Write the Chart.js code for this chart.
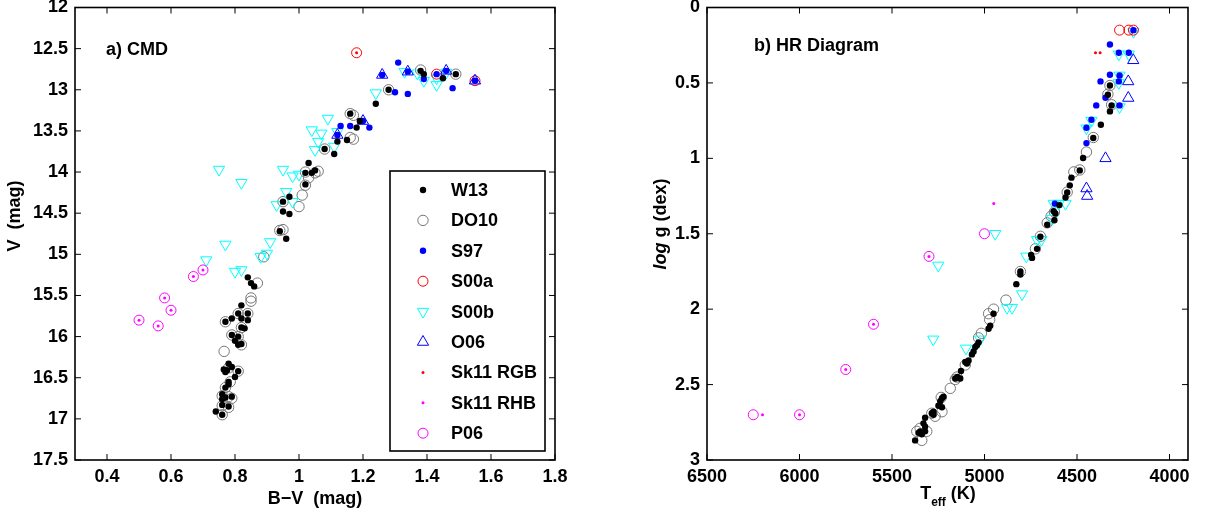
<!DOCTYPE html>
<html>
<head>
<meta charset="utf-8">
<script src="https://cdn.jsdelivr.net/npm/chart.js@4.4.1/dist/chart.umd.min.js"></script>
<style>
  html, body { margin: 0; padding: 0; background: #fff; }
  #wrap { position: relative; width: 1207px; height: 515px; }
  .panel { position: absolute; top: 0; height: 515px; }
</style>
</head>
<body>
<div id="wrap">
  <div class="panel" style="left:0;width:610px"><canvas id="cmd"></canvas></div>
  <div class="panel" style="left:610px;width:597px"><canvas id="hr"></canvas></div>
</div>
<script>
const FONT = '"Liberation Sans", Arial, Helvetica, sans-serif';

// --- tick values ---
const cmdXTicks = [0.4, 0.6, 0.8, 1, 1.2, 1.4, 1.6, 1.8];
const cmdYTicks = [12, 12.5, 13, 13.5, 14, 14.5, 15, 15.5, 16, 16.5, 17, 17.5];
const hrXTicks = [6500, 6000, 5500, 5000, 4500, 4000];
const hrYTicks = [0, 0.5, 1, 1.5, 2, 2.5, 3];

// --- a) CMD : [B-V, V] ---
const cmdW13 = [
  [1.38, 12.77], [1.39, 12.81], [1.45, 12.86], [1.49, 12.81], [1.28, 13.00], [1.24, 13.17],
  [1.16, 13.29], [1.19, 13.38], [1.18, 13.46], [1.12, 13.63], [1.15, 13.61], [1.08, 13.72], [1.11, 13.78],
  [1.03, 13.89], [1.02, 14.01], [1.04, 14.01], [1.05, 13.98], [1.02, 14.15], [0.97, 14.30], [0.95, 14.36],
  [0.95, 14.48], [0.97, 14.51], [0.94, 14.72], [0.96, 14.81],
  [0.84, 15.28], [0.85, 15.35], [0.86, 15.39], [0.82, 15.62], [0.81, 15.72], [0.84, 15.72], [0.79, 15.78],
  [0.82, 15.78], [0.84, 15.80], [0.77, 15.82], [0.82, 15.89], [0.83, 15.90], [0.79, 15.98], [0.81, 16.00],
  [0.80, 16.05], [0.81, 16.10], [0.82, 16.09], [0.78, 16.33], [0.765, 16.40], [0.77, 16.43], [0.775, 16.41],
  [0.79, 16.37], [0.81, 16.42], [0.80, 16.49], [0.78, 16.55], [0.78, 16.58], [0.77, 16.62], [0.76, 16.70],
  [0.77, 16.74], [0.79, 16.73], [0.76, 16.76], [0.76, 16.83], [0.78, 16.85], [0.74, 16.91], [0.76, 16.95]
];
const cmdDO10 = [
  [1.38, 12.76], [1.49, 12.81], [1.28, 13.00], [1.16, 13.29], [1.17, 13.31], [1.16, 13.58], [1.17, 13.60],
  [1.08, 13.72], [1.02, 14.00], [1.06, 13.99], [1.05, 14.01], [1.03, 14.07], [1.02, 14.16], [1.01, 14.28],
  [1.00, 14.42], [0.95, 14.36], [0.94, 14.71], [0.95, 14.70], [0.89, 15.03],
  [0.87, 15.35], [0.85, 15.53], [0.85, 15.57], [0.81, 15.72], [0.84, 15.72], [0.77, 15.82], [0.82, 15.89],
  [0.79, 15.98], [0.81, 16.00], [0.82, 16.10], [0.766, 16.18], [0.78, 16.38], [0.81, 16.42], [0.785, 16.55],
  [0.77, 16.62], [0.76, 16.72], [0.78, 16.73], [0.79, 16.75], [0.76, 16.84], [0.78, 16.86], [0.76, 16.95]
];
const cmdS97 = [
  [1.31, 12.67], [1.39, 12.87], [1.43, 12.81], [1.46, 12.77], [1.48, 12.98], [1.55, 12.89], [1.30, 13.03],
  [1.34, 13.05], [1.26, 12.82], [1.34, 12.78], [1.20, 13.38], [1.22, 13.46], [1.13, 13.44], [1.16, 13.44],
  [1.12, 13.55]
];
const cmdS00a = [[1.18, 12.55], [1.43, 12.81], [1.55, 12.89]];
const cmdS00b = [
  [1.33, 12.78], [1.37, 12.80], [1.39, 12.89], [1.43, 12.86], [1.43, 12.94], [1.46, 12.79], [1.24, 13.04],
  [1.09, 13.35], [1.12, 13.51], [1.04, 13.49], [1.07, 13.53], [1.06, 13.63], [1.05, 13.73], [1.11, 13.69],
  [0.95, 13.97], [0.98, 14.05], [1.00, 14.03], [0.96, 14.24], [0.98, 14.36], [0.93, 14.40], [0.82, 14.13],
  [0.75, 13.97], [0.91, 14.85], [0.77, 14.88], [0.71, 15.07], [0.80, 15.21], [0.82, 15.19], [0.88, 15.03],
  [0.90, 14.99]
];
const cmdO06 = [[1.26, 12.82], [1.34, 12.78], [1.46, 12.77], [1.55, 12.89], [1.20, 13.38], [1.12, 13.55]];
const cmdSk11RGB = [[1.18, 12.55]];
const cmdSk11RHB = [[0.50, 15.80], [0.56, 15.87], [0.58, 15.53], [0.60, 15.68], [0.67, 15.27], [0.70, 15.19]];
const cmdP06 = [[0.50, 15.80], [0.56, 15.87], [0.58, 15.53], [0.60, 15.68], [0.67, 15.27], [0.70, 15.19]];

// --- b) HR diagram : [Teff, log g] ---
const hrW13 = [
  [4322, 0.517], [4333, 0.578], [4313, 0.649], [4322, 0.689], [4371, 0.777], [4412, 0.865], [4467, 0.998],
  [4485, 1.08], [4530, 1.128], [4539, 1.179], [4553, 1.227], [4562, 1.26], [4595, 1.31], [4626, 1.351],
  [4617, 1.366], [4622, 1.41], [4661, 1.44], [4698, 1.52], [4716, 1.60], [4748, 1.64], [4743, 1.66],
  [4806, 1.75], [4806, 1.77], [4828, 1.834], [4951, 2.03], [4969, 2.11], [4978, 2.13], [5032, 2.22],
  [5041, 2.24], [5050, 2.25], [5059, 2.28], [5068, 2.30], [5086, 2.34], [5095, 2.36], [5104, 2.35],
  [5127, 2.41], [5146, 2.45], [5158, 2.46], [5131, 2.46], [5222, 2.58], [5230, 2.59], [5239, 2.61],
  [5249, 2.64], [5230, 2.65], [5276, 2.68], [5285, 2.69], [5276, 2.70], [5321, 2.72], [5330, 2.757],
  [5321, 2.78], [5348, 2.81], [5357, 2.82], [5339, 2.83], [5375, 2.87], [5321, 2.81]
];
const hrDO10 = [
  [4322, 0.517], [4333, 0.575], [4313, 0.645], [4412, 0.862], [4449, 0.958], [4485, 1.077], [4517, 1.09],
  [4553, 1.224], [4622, 1.356], [4640, 1.384], [4661, 1.428], [4698, 1.517], [4725, 1.60], [4806, 1.75],
  [4884, 1.94], [4951, 2.0], [4978, 2.03], [4972, 2.07], [5017, 2.16], [5032, 2.19], [5104, 2.37],
  [5149, 2.45], [5158, 2.466], [5185, 2.525], [5234, 2.585], [5230, 2.68], [5285, 2.69], [5267, 2.71],
  [5312, 2.81], [5348, 2.79], [5366, 2.81], [5339, 2.87]
];
const hrS97 = [
  [4195, 0.15], [4322, 0.245], [4274, 0.30], [4220, 0.30], [4322, 0.446], [4270, 0.45], [4373, 0.49],
  [4274, 0.49], [4346, 0.598], [4396, 0.649], [4270, 0.649], [4422, 0.744], [4449, 0.797], [4449, 0.899],
  [4620, 1.30]
];
const hrS00a = [[4270, 0.15], [4220, 0.15], [4195, 0.15]];
const hrS00b = [
  [4195, 0.16], [4274, 0.31], [4220, 0.31], [4270, 0.45], [4274, 0.50], [4270, 0.66], [4422, 0.75],
  [4449, 0.80], [4626, 1.30], [4599, 1.30], [4562, 1.30], [4634, 1.40], [4716, 1.54], [4692, 1.54],
  [4774, 1.65], [4797, 1.90], [4878, 1.99], [4851, 1.99], [4942, 1.5], [5250, 1.71], [5277, 2.2],
  [5100, 2.26], [5023, 2.2]
];
const hrO06 = [[4196, 0.35], [4223, 0.49], [4223, 0.60], [4346, 1.0], [4449, 1.2], [4445, 1.25]];
const hrSk11RGB = [[4400, 0.30], [4375, 0.30]];
const hrSk11RHB = [[5300, 1.65], [5600, 2.1], [5750, 2.4], [6000, 2.7], [6200, 2.7], [4950, 1.3]];
const hrP06 = [[5300, 1.65], [5600, 2.1], [5750, 2.4], [6000, 2.7], [6250, 2.7], [5000, 1.5]];

const LEGEND_LABELS = ['W13', 'DO10', 'S97', 'S00a', 'S00b', 'O06', 'Sk11 RGB', 'Sk11 RHB', 'P06'];

const NONE = 'rgba(0,0,0,0)';
const STYLES = {
  'W13':      { shape: 'circle', r: 3.2, fill: '#000000', line: '#000000', bw: 0, order: 2 },
  'DO10':     { shape: 'circle', r: 5.2, fill: NONE, line: '#777777', bw: 1, order: 8 },
  'S97':      { shape: 'circle', r: 3.2, fill: '#0000ff', line: '#0000ff', bw: 0, order: 3 },
  'S00a':     { shape: 'circle', r: 5, fill: NONE, line: '#ff0000', bw: 1, order: 6 },
  'S00b':     { shape: 'triangle', r: 6.5, rot: 180, fill: NONE, line: '#00ffff', bw: 1, order: 7 },
  'O06':      { shape: 'triangle', r: 6.5, rot: 0, fill: NONE, line: '#0000ff', bw: 1, order: 5 },
  'Sk11 RGB': { shape: 'circle', r: 1.5, fill: '#ff0000', line: '#ff0000', bw: 0, order: 1 },
  'Sk11 RHB': { shape: 'circle', r: 1.5, fill: '#ff00ff', line: '#ff00ff', bw: 0, order: 1 },
  'P06':      { shape: 'circle', r: 5, fill: NONE, line: '#ff00ff', bw: 1, order: 6 },
};

function makeDatasets(seriesMap) {
  return LEGEND_LABELS.map(label => {
    const st = STYLES[label];
    return {
      label,
      data: seriesMap[label].map(p => ({ x: p[0], y: p[1] })),
      pointStyle: st.shape,
      pointRadius: st.r,
      pointRotation: st.rot || 0,
      pointBackgroundColor: st.fill,
      pointBorderColor: st.line,
      pointBorderWidth: st.bw,
      showLine: false,
      order: st.order,
    };
  });
}

function drawMarker(ctx, st, x, y) {
  ctx.save();
  ctx.lineWidth = st.bw;
  ctx.strokeStyle = st.line;
  ctx.fillStyle = st.fill;
  ctx.beginPath();
  if (st.shape === 'circle') {
    ctx.arc(x, y, st.r, 0, Math.PI * 2);
  } else {
    const rad0 = (st.rot || 0) * Math.PI / 180;
    for (let k = 0; k < 3; k++) {
      const a = rad0 + k * 2 * Math.PI / 3;
      const px = x + Math.sin(a) * st.r, py = y - Math.cos(a) * st.r;
      if (k === 0) ctx.moveTo(px, py); else ctx.lineTo(px, py);
    }
    ctx.closePath();
  }
  ctx.fill();
  if (st.bw > 0) ctx.stroke();
  ctx.restore();
}

// draw text pieces one after another: [{t, size, italic, dy}]
function drawPieces(ctx, pieces, cx, baseY) {
  const fontOf = p => `${p.italic ? 'italic ' : ''}bold ${p.size}px ${FONT}`;
  let total = 0;
  pieces.forEach(p => { ctx.font = fontOf(p); total += ctx.measureText(p.t).width; });
  let x = cx - total / 2;
  ctx.textAlign = 'left';
  ctx.textBaseline = 'alphabetic';
  pieces.forEach(p => {
    ctx.font = fontOf(p);
    ctx.fillText(p.t, x, baseY + (p.dy || 0));
    x += ctx.measureText(p.t).width;
  });
}

// box around plot area, inward ticks on all four sides, titles, legend
const framePlugin = {
  id: 'frame',
  afterDraw(chart) {
    const ctx = chart.ctx;
    const a = chart.chartArea;
    const xs = chart.scales.x, ys = chart.scales.y;
    const tl = 6;
    ctx.save();
    ctx.strokeStyle = '#000';
    ctx.lineWidth = 1;
    ctx.beginPath();
    xs.ticks.forEach(t => {
      const px = xs.getPixelForValue(t.value);
      ctx.moveTo(px, a.bottom); ctx.lineTo(px, a.bottom - tl);
      ctx.moveTo(px, a.top); ctx.lineTo(px, a.top + tl);
    });
    ys.ticks.forEach(t => {
      const py = ys.getPixelForValue(t.value);
      ctx.moveTo(a.left, py); ctx.lineTo(a.left + tl, py);
      ctx.moveTo(a.right, py); ctx.lineTo(a.right - tl, py);
    });
    ctx.stroke();
    ctx.lineWidth = 1.6;
    ctx.strokeRect(a.left, a.top, a.right - a.left, a.bottom - a.top);

    const cfg = chart.options.plugins.frame;
    ctx.fillStyle = '#000';
    // panel label
    ctx.font = `bold 18px ${FONT}`;
    ctx.textAlign = 'left';
    ctx.textBaseline = 'alphabetic';
    ctx.fillText(cfg.panel, cfg.panelX, cfg.panelY);
    // x title
    drawPieces(ctx, cfg.xTitle, cfg.xTitleX, cfg.xTitleY);
    // y title (rotated)
    ctx.save();
    ctx.translate(cfg.yTitleX, cfg.yTitleY);
    ctx.rotate(-Math.PI / 2);
    drawPieces(ctx, cfg.yTitle, 0, 6);
    ctx.restore();

    if (cfg.legend) {
      const L = cfg.legend;
      ctx.fillStyle = '#fff';
      ctx.fillRect(L.x, L.y, L.w, L.h);
      ctx.lineWidth = 1.6;
      ctx.strokeStyle = '#000';
      ctx.strokeRect(L.x, L.y, L.w, L.h);
      ctx.font = `bold 18px ${FONT}`;
      ctx.textBaseline = 'middle';
      ctx.textAlign = 'left';
      LEGEND_LABELS.forEach((label, i) => {
        const y = L.firstY + i * L.step;
        drawMarker(ctx, STYLES[label], L.markerX, y);
        ctx.fillStyle = '#000';
        ctx.fillText(label, L.textX, y + 1);
      });
    }
    ctx.restore();
  },
};

function axis(min, max, reverse, ticks, fmt, isX, size) {
  return {
    type: 'linear',
    min, max, reverse,
    grid: { display: false, drawTicks: false },
    border: { display: false },
    afterBuildTicks: s => { s.ticks = ticks.map(v => ({ value: v })); },
    afterFit: s => {
      if (isX) { s.height = size; s.paddingLeft = 0; s.paddingRight = 0; }
      else { s.width = size; s.paddingTop = 0; s.paddingBottom = 0; }
    },
    ticks: {
      color: '#000',
      font: { family: FONT, size: 18, weight: 'bold' },
      padding: isX ? 6 : 7,
      maxRotation: 0,
      autoSkip: false,
      callback: v => fmt(v),
    },
  };
}

const fmtDec = v => String(Math.round(v * 10) / 10);

new Chart(document.getElementById('cmd'), {
  type: 'scatter',
  data: {
    datasets: makeDatasets({
      'W13': cmdW13, 'DO10': cmdDO10, 'S97': cmdS97, 'S00a': cmdS00a, 'S00b': cmdS00b,
      'O06': cmdO06, 'Sk11 RGB': cmdSk11RGB, 'Sk11 RHB': cmdSk11RHB, 'P06': cmdP06,
    }),
  },
  options: {
    responsive: true,
    maintainAspectRatio: false,
    animation: false,
    events: [],
    layout: { padding: { top: 7, right: 55, left: 0, bottom: 0 } },
    plugins: {
      legend: { display: false },
      tooltip: { enabled: false },
      frame: {
        panel: 'a) CMD', panelX: 106, panelY: 55,
        xTitle: [{ t: 'B\u2212V  (mag)', size: 18 }], xTitleX: 315, xTitleY: 504,
        yTitle: [{ t: 'V  (mag)', size: 18 }], yTitleX: 14, yTitleY: 216,
        legend: { x: 390, y: 171, w: 155, h: 280, markerX: 423, textX: 451, firstY: 190, step: 30.4 },
      },
    },
    scales: {
      x: axis(0.3, 1.8, false, cmdXTicks, fmtDec, true, 55),
      y: axis(12, 17.5, true, cmdYTicks, fmtDec, false, 75),
    },
  },
  plugins: [framePlugin],
});

new Chart(document.getElementById('hr'), {
  type: 'scatter',
  data: {
    datasets: makeDatasets({
      'W13': hrW13, 'DO10': hrDO10, 'S97': hrS97, 'S00a': hrS00a, 'S00b': hrS00b,
      'O06': hrO06, 'Sk11 RGB': hrSk11RGB, 'Sk11 RHB': hrSk11RHB, 'P06': hrP06,
    }),
  },
  options: {
    responsive: true,
    maintainAspectRatio: false,
    animation: false,
    events: [],
    layout: { padding: { top: 7, right: 19, left: 0, bottom: 0 } },
    plugins: {
      legend: { display: false },
      tooltip: { enabled: false },
      frame: {
        panel: 'b) HR Diagram', panelX: 144, panelY: 51,
        xTitle: [{ t: 'T', size: 18 }, { t: 'eff', size: 12, dy: 7 }, { t: ' (K)', size: 18 }],
        xTitleX: 338, xTitleY: 499,
        yTitle: [{ t: 'log', size: 18, italic: true }, { t: ' g (dex)', size: 18 }],
        yTitleX: 50, yTitleY: 224,
      },
    },
    scales: {
      x: axis(3900, 6500, true, hrXTicks, v => String(v), true, 55),
      y: axis(0, 3, true, hrYTicks, fmtDec, false, 97),
    },
  },
  plugins: [framePlugin],
});
</script>
</body>
</html>
